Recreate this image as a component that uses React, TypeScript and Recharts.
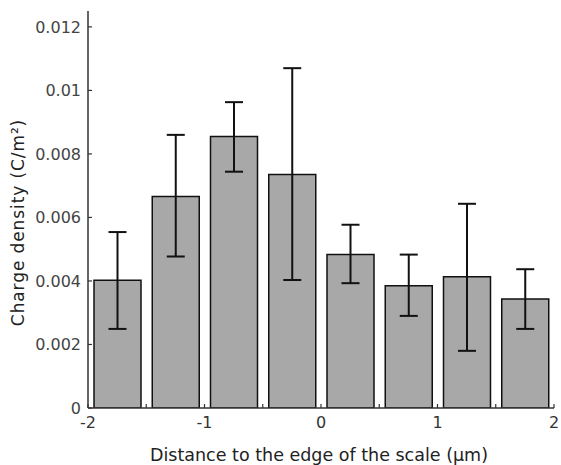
import { ComposedChart, Bar, ErrorBar, XAxis, YAxis } from "recharts";

const positions = [-1.75, -1.25, -0.75, -0.25, 0.25, 0.75, 1.25, 1.75];
const density = [0.00402, 0.00666, 0.00855, 0.00735, 0.00483, 0.00385, 0.00413, 0.00343];
const lowerBound = [0.00249, 0.00477, 0.00744, 0.00403, 0.00393, 0.0029, 0.0018, 0.00249];
const upperBound = [0.00554, 0.0086, 0.00963, 0.0107, 0.00577, 0.00483, 0.00643, 0.00437];
const xTicks = [-2, -1.5, -1, -0.5, 0, 0.5, 1, 1.5, 2];
const yTicks = [0, 0.002, 0.004, 0.006, 0.008, 0.01, 0.012];

const data = positions.map((x, i) => ({
  x,
  density: density[i],
  err: [density[i] - lowerBound[i], upperBound[i] - density[i]],
}));

const FONT = "'DejaVu Sans', Verdana, sans-serif";

function YTick(props: any) {
  const { x, y, payload } = props;
  return (
    <g>
      <line x1={x} y1={y} x2={x + 4} y2={y} stroke="#333" strokeWidth={1.2} />
      <text x={x - 7} y={y} dy={6} textAnchor="end" fontSize={16} fill="#444" fontFamily={FONT}>
        {String(payload.value)}
      </text>
    </g>
  );
}

function XTick(props: any) {
  const { x, y, payload } = props;
  const isMajor = Number.isInteger(payload.value);
  return (
    <g>
      <line x1={x} y1={y} x2={x} y2={y - 4} stroke="#333" strokeWidth={1.2} />
      {isMajor && (
        <text x={x} y={y + 20} textAnchor="middle" fontSize={16} fill="#333" fontFamily={FONT}>
          {String(payload.value)}
        </text>
      )}
    </g>
  );
}

export default function App() {
  return (
    <div style={{ position: "absolute", left: 0, top: 0, background: "#fff" }}>
      <ComposedChart
        width={561}
        height={465}
        data={data}
        margin={{ top: 11, right: 7, bottom: 0, left: 0 }}
      >
        <XAxis
          type="number"
          dataKey="x"
          domain={[-2, 2]}
          ticks={xTicks}
          interval={0}
          allowDataOverflow
          stroke="#333"
          strokeWidth={1.5}
          tickLine={false}
          tickSize={0}
          tickMargin={0}
          tick={<XTick />}
          height={57}
          label={{
            value: "Distance to the edge of the scale (\u03bcm)",
            position: "insideBottom",
            offset: 4,
            dx: -2,
            fill: "#222",
            fontSize: 17.5,
            fontFamily: FONT,
          }}
        />
        <YAxis
          type="number"
          domain={[0, 0.0125]}
          ticks={yTicks}
          interval={0}
          allowDataOverflow
          stroke="#333"
          strokeWidth={1.5}
          tickLine={false}
          tickSize={0}
          tickMargin={0}
          tick={<YTick />}
          width={88}
          label={{
            value: "Charge density (C/m\u00b2)",
            angle: -90,
            position: "insideLeft",
            offset: 18,
            dy: 13,
            fill: "#222",
            fontSize: 17,
            fontFamily: FONT,
            style: { textAnchor: "middle", letterSpacing: 0.9 },
          }}
        />
        <Bar
          dataKey="density"
          fill="#a8a8a8"
          stroke="#111"
          strokeWidth={1.5}
          barSize={47}
          isAnimationActive={false}
        >
          <ErrorBar dataKey="err" width={9} stroke="#111" strokeWidth={2} direction="y" />
        </Bar>
      </ComposedChart>
    </div>
  );
}
